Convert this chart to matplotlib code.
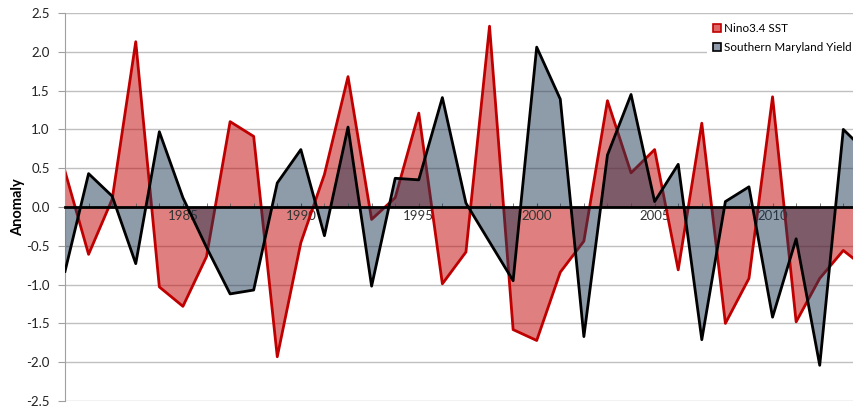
import numpy as np
import matplotlib
matplotlib.use('Agg')
import matplotlib.pyplot as plt
from matplotlib.patches import Patch

plt.rcParams['font.family'] = ['Lato', 'DejaVu Sans']

years = list(range(1980, 2015))
nino_sst = [0.46, -0.61, 0.10, 2.13, -1.03, -1.28, -0.64, 1.10, 0.91, -1.93,
            -0.46, 0.42, 1.68, -0.16, 0.12, 1.21, -0.99, -0.58, 2.33, -1.58,
            -1.72, -0.84, -0.44, 1.37, 0.44, 0.74, -0.81, 1.08, -1.50, -0.92,
            1.42, -1.48, -0.92, -0.56, -0.80]
md_yield = [-0.83, 0.43, 0.14, -0.73, 0.97, 0.12, -0.52, -1.12, -1.07, 0.31,
            0.74, -0.37, 1.03, -1.02, 0.37, 0.35, 1.41, 0.05, -0.45, -0.95,
            2.06, 1.39, -1.67, 0.67, 1.45, 0.07, 0.55, -1.71, 0.07, 0.26,
            -1.42, -0.41, -2.04, 1.00, 0.70]
series_names = ['Nino3.4 SST', 'Southern Maryland Yield']
x_labels = [1985, 1990, 1995, 2000, 2005, 2010]
y_ticks = np.arange(-2.5, 2.51, 0.5)

x = np.array(years)
fig = plt.figure(figsize=(8.54, 4.08), dpi=100)
ax = fig.add_axes([65 / 854, 1 - 401 / 408, 1 - 65 / 854, (401 - 13) / 408])

# grid
for v in y_ticks:
    ax.axhline(v, color='#c0c0c0', lw=1.0, zorder=0)

# series
ax.fill_between(x, 0, nino_sst, color='#c00000', alpha=0.5, lw=0, zorder=1)
ax.plot(x, nino_sst, color='#c00000', lw=2.0, zorder=2)
ax.fill_between(x, 0, md_yield, color='#1f3854', alpha=0.5, lw=0, zorder=3)
ax.plot(x, md_yield, color='black', lw=2.0, zorder=4)

# spines
for s in ['top', 'right']:
    ax.spines[s].set_visible(False)
ax.spines['left'].set_color('#a0a0a0')
ax.spines['bottom'].set_position(('data', 0))
ax.spines['bottom'].set_color('black')
ax.spines['bottom'].set_linewidth(2.0)
ax.spines['bottom'].set_zorder(5)

ax.set_yticks(y_ticks)
ax.set_yticklabels(['%.1f' % v for v in y_ticks], fontsize=9.5, color='#222222')
ax.tick_params(axis='y', length=5, color='#a0a0a0', pad=6)

ax.set_xticks(x_labels)
ax.set_xticklabels([str(v) for v in x_labels], fontsize=9.5, color='#333333')
ax.set_xticks(years, minor=True)
ax.tick_params(axis='x', which='both', length=3, direction='in', color='#606060', pad=2)

# limits after ticks (set_xticks would widen the view)
ax.set_ylim(-2.5, 2.5)
ax.set_xlim(1980, 1980 + (854 - 64.5) / 23.6)

ax.set_ylabel('Anomaly', fontsize=10.5, fontweight='bold')
ax.yaxis.set_label_coords(-0.051, 0.5)

handles = [Patch(facecolor='#e06666', edgecolor='#c00000', lw=1.2),
           Patch(facecolor='#8e9aab', edgecolor='black', lw=1.2)]
leg = ax.legend(handles, series_names, loc='upper right', bbox_to_anchor=(1.012, 1.005),
                fontsize=8.4, frameon=True, fancybox=False, edgecolor='none',
                facecolor='white', framealpha=1.0, handlelength=0.7, handleheight=0.7,
                handletextpad=0.3, labelspacing=0.75, borderpad=0.5)
leg.set_zorder(6)

fig.savefig('out.png', dpi=100)
